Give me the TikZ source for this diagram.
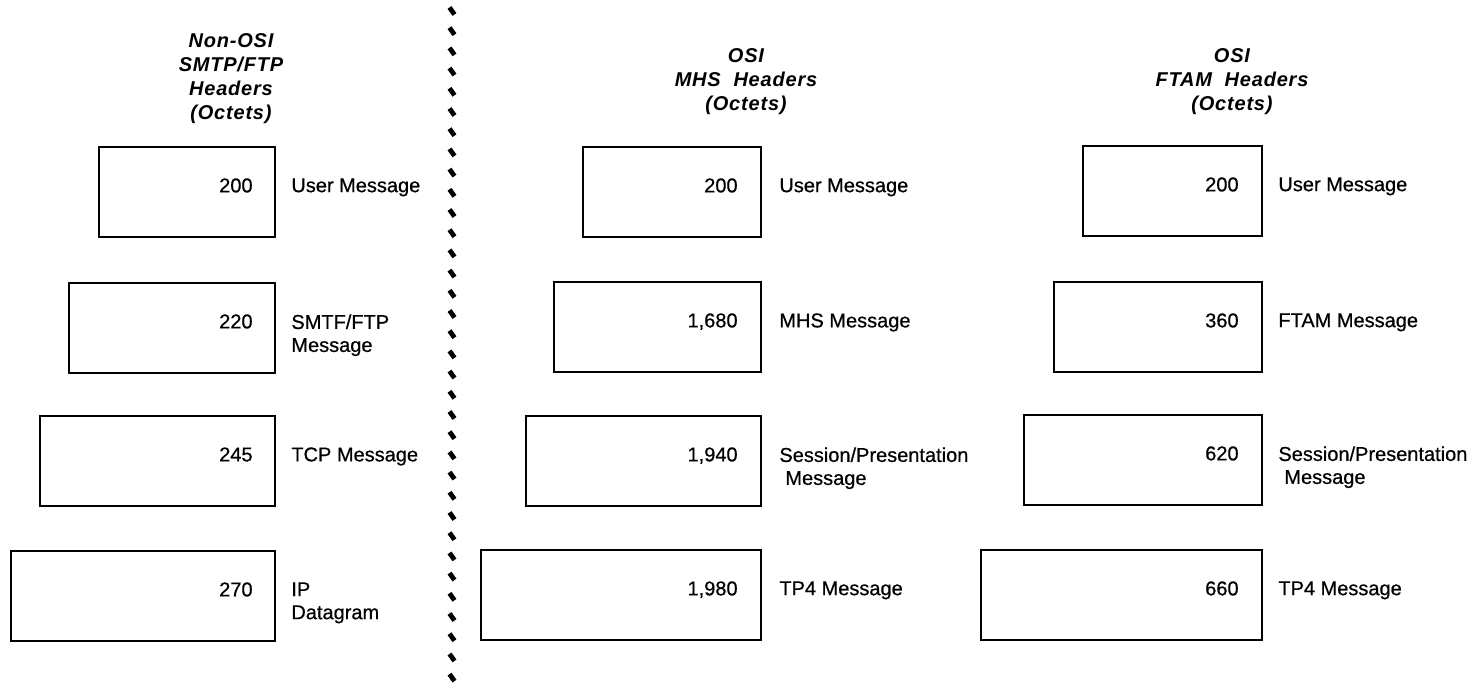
\documentclass[tikz,border=0pt]{standalone}
\usepackage{fontspec}
\setmainfont{Liberation Sans}
\newfontfamily\lblfont[FakeBold=0.6]{Liberation Sans}
\newfontfamily\hdrfont[LetterSpace=4]{Liberation Sans}
\usetikzlibrary{positioning}
\tikzset{%
  octbox/.style={draw, line width=1.1pt, inner sep=0pt, minimum height=45pt,
                 anchor=north east},
  octnum/.style={inner sep=0pt, anchor=north east,
                 font=\lblfont\fontsize{10}{11.5}\selectfont},
  octlbl/.style={inner sep=0pt, anchor=north west, align=left,
                 font=\lblfont\fontsize{10}{11.5}\selectfont},
  colhead/.style={inner sep=0pt, anchor=north, align=center,
                  font=\hdrfont\bfseries\itshape\fontsize{10}{12}\selectfont},
  sepdash/.style={line width=2.4pt},
}

\begin{document}
\begin{tikzpicture}[x=0.5pt, y=-0.5pt]
\useasboundingbox (0,0) rectangle (1478,684);

% column headers
\node[colhead] (hsmtp) at (231,33) {Non-OSI\\SMTP/FTP\\Headers\\(Octets)};
\node[colhead] (hmhs) at (746,48) {OSI\\MHS~~Headers\\(Octets)};
\node[colhead] (hftam) at (1232,48) {OSI\\FTAM~~Headers\\(Octets)};

% separator between non-OSI and OSI
\foreach \i in {0,...,33}
  \draw[sepdash] (449.5,{7.5+20.2*\i}) -- (454.5,{14.5+20.2*\i});

% non-OSI stack
\node[octbox, minimum width=88pt] (ua) at (276,146) {};
\node[octbox, minimum width=103pt] (ub) at (276,282) {};
\node[octbox, minimum width=117.5pt] (uc) at (276,415) {};
\node[octbox, minimum width=132pt] (ud) at (276,550) {};
\node[octnum] (nua) at ([xshift=-11.5pt,yshift=-16pt]ua.north east) {200};
\node[octnum] (nub) at ([xshift=-11.5pt,yshift=-16pt]ub.north east) {220};
\node[octnum] (nuc) at ([xshift=-11.5pt,yshift=-16pt]uc.north east) {245};
\node[octnum] (nud) at ([xshift=-11.5pt,yshift=-16pt]ud.north east) {270};
\node[octlbl] (lua) at ([xshift=7.5pt]ua.east |- nua.north) {User Message};
\node[octlbl] (lub) at ([xshift=7.5pt]ub.east |- nub.north) {SMTF/FTP\\Message};
\node[octlbl] (luc) at ([xshift=7.5pt]uc.east |- nuc.north) {TCP Message};
\node[octlbl] (lud) at ([xshift=7.5pt]ud.east |- nud.north) {IP\\Datagram};

% OSI MHS stack
\node[octbox, minimum width=89pt] (ma) at (762,146) {};
\node[octbox, minimum width=103.5pt] (mb) at (762,281) {};
\node[octbox, minimum width=117.5pt] (mc) at (762,415) {};
\node[octbox, minimum width=140pt] (md) at (762,549) {};
\node[octnum] (nma) at ([xshift=-12pt,yshift=-16pt]ma.north east) {200};
\node[octnum] (nmb) at ([xshift=-12pt,yshift=-16pt]mb.north east) {1,680};
\node[octnum] (nmc) at ([xshift=-12pt,yshift=-16pt]mc.north east) {1,940};
\node[octnum] (nmd) at ([xshift=-12pt,yshift=-16pt]md.north east) {1,980};
\node[octlbl] (lma) at ([xshift=8.5pt]ma.east |- nma.north) {User Message};
\node[octlbl] (lmb) at ([xshift=8.5pt]mb.east |- nmb.north) {MHS Message};
\node[octlbl] (lmc) at ([xshift=8.5pt]mc.east |- nmc.north) {Session/Presentation\\\hspace*{3pt}Message};
\node[octlbl] (lmd) at ([xshift=8.5pt]md.east |- nmd.north) {TP4 Message};

% OSI FTAM stack
\node[octbox, minimum width=89.5pt] (fa) at (1263,145) {};
\node[octbox, minimum width=104pt] (fb) at (1263,281) {};
\node[octbox, minimum width=119pt] (fc) at (1263,414) {};
\node[octbox, minimum width=140.5pt] (fd) at (1263,549) {};
\node[octnum] (nfa) at ([xshift=-12pt,yshift=-16pt]fa.north east) {200};
\node[octnum] (nfb) at ([xshift=-12pt,yshift=-16pt]fb.north east) {360};
\node[octnum] (nfc) at ([xshift=-12pt,yshift=-16pt]fc.north east) {620};
\node[octnum] (nfd) at ([xshift=-12pt,yshift=-16pt]fd.north east) {660};
\node[octlbl] (lfa) at ([xshift=7.5pt]fa.east |- nfa.north) {User Message};
\node[octlbl] (lfb) at ([xshift=7.5pt]fb.east |- nfb.north) {FTAM Message};
\node[octlbl] (lfc) at ([xshift=7.5pt]fc.east |- nfc.north) {Session/Presentation\\\hspace*{3pt}Message};
\node[octlbl] (lfd) at ([xshift=7.5pt]fd.east |- nfd.north) {TP4 Message};

\end{tikzpicture}
\end{document}
